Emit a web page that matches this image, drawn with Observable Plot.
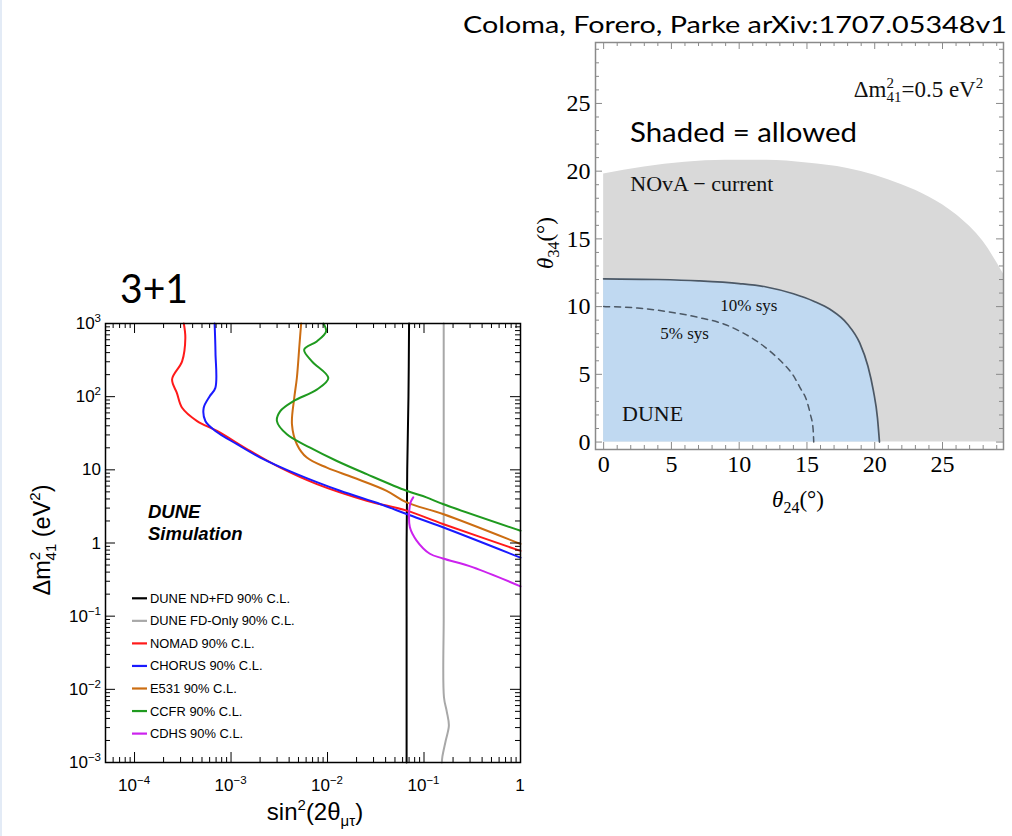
<!DOCTYPE html>
<html><head><meta charset="utf-8">
<script src="https://cdn.jsdelivr.net/npm/d3@7"></script>
<script src="https://cdn.jsdelivr.net/npm/@observablehq/plot@0.6"></script>
<style>
html,body{margin:0;padding:0;background:#fff;}
#page{position:relative;width:1012px;height:836px;overflow:hidden;background:#fff;}
</style></head>
<body><div id="page"></div>
<script>
// ================= LEFT CHART DATA (3+1 : sin^2(2θμτ) vs Δm²41) =================
const seriesNames = ["DUNE ND+FD 90% C.L.","DUNE FD-Only 90% C.L.","NOMAD 90% C.L.","CHORUS 90% C.L.","E531 90% C.L.","CCFR 90% C.L.","CDHS 90% C.L."];
const seriesColors = ["#000000","#a8a8a8","#ff1a1a","#1a1aff","#cc6d12","#1f9a1f","#cc22ee"];

const ndfdSin = [0.07, 0.069, 0.067, 0.066, 0.066, 0.066, 0.066];
const ndfdDm  = [1000, 100, 10, 1, 0.1, 0.01, 0.001];

const fdSin = [0.16, 0.16, 0.16, 0.16, 0.16, 0.161, 0.172, 0.181, 0.168, 0.155, 0.153];
const fdDm  = [1000, 100, 10, 1, 0.1, 0.0078, 0.005, 0.0032, 0.002, 0.0012, 0.001];

const nomadSin = [3.24e-4, 3.36e-4, 3.11e-4, 2.45e-4, 2.75e-4, 3.11e-4, 4.45e-4, 7.16e-4, 1.58e-3, 3.24e-3, 7.75e-3, 0.0255, 0.066, 0.157, 1.0];
const nomadDm  = [1000, 631, 304, 173, 112, 70.5, 46.4, 34, 18.1, 10.7, 6.38, 3.78, 2.77, 1.82, 0.78];

const chorusSin = [6.76e-4, 6.9e-4, 6.88e-4, 5.97e-4, 5.21e-4, 5.42e-4, 6.88e-4, 1.15e-3, 2.01e-3, 4.81e-3, 0.0135, 0.035, 0.066, 0.157, 1.0];
const chorusDm  = [1000, 400, 132, 100, 70.5, 46.4, 34, 22.4, 14.7, 8.73, 5.17, 3.41, 2.49, 1.64, 0.63];

const e531Sin = [5.33e-3, 5.12e-3, 4.81e-3, 4.52e-3, 4.28e-3, 4.81e-3, 6.1e-3, 9.84e-3, 0.0185, 0.041, 0.066, 0.157, 1.0];
const e531Dm  = [1000, 513, 180, 96, 41.9, 22.4, 14.7, 10.7, 7.85, 5.17, 3.59, 2.49, 0.97];

const ccfrSin = [9.06e-3, 9.66e-3, 7.74e-3, 5.73e-3, 6.89e-3, 0.0102, 7.74e-3, 4.43e-3, 3.24e-3, 2.99e-3, 3.79e-3, 6.6e-3, 0.0125, 0.0255, 0.066, 0.106, 0.157, 1.0];
const ccfrDm  = [1000, 778, 569, 439, 304, 180, 125, 86.9, 63.5, 46.4, 30.6, 20.1, 13.2, 8.73, 5.17, 4.2, 3.41, 1.47];

const cdhsSin = [0.0773, 0.0726, 0.0703, 0.0714, 0.0838, 0.115, 0.157, 0.323, 1.0];
const cdhsDm  = [4.2, 3.59, 2.77, 1.64, 1.08, 0.713, 0.615, 0.465, 0.256];

const leftTicksX = [1e-4, 1e-3, 1e-2, 1e-1, 1];
const leftTickBaseX = ["10", "10", "10", "10", "1"];
const leftTickExpX  = ["−4", "−3", "−2", "−1", ""];
const leftTicksY = [1e-3, 1e-2, 1e-1, 1, 10, 100, 1000];
const leftTickBaseY = ["10", "10", "10", "1", "10", "10", "10"];
const leftTickExpY  = ["−3", "−2", "−1", "", "", "2", "3"];

// ================= RIGHT CHART DATA (θ24 vs θ34, Δm²41 = 0.5 eV²) =================
const novaTheta24 = [0, 3, 6, 9, 12, 15, 18, 20, 22, 24, 26, 28, 29.5];
const novaTheta34 = [19.8, 20.3, 20.65, 20.8, 20.8, 20.6, 20.2, 19.7, 19.0, 18.1, 16.8, 14.8, 12.4];

const dune10Theta24 = [0, 4, 7, 10, 12, 14, 15.5, 16.7, 18, 18.9, 19.5, 19.9, 20.2, 20.35];
const dune10Theta34 = [12.05, 12.0, 11.9, 11.7, 11.45, 10.95, 10.4, 9.8, 8.7, 7.3, 5.6, 3.8, 1.8, 0];

const dune5Theta24 = [0, 2.5, 5.2, 7, 8.9, 10.2, 11.3, 12.4, 13.3, 14, 14.5, 15, 15.25, 15.45, 15.5];
const dune5Theta34 = [10, 9.9, 9.55, 9.2, 8.7, 8.1, 7.45, 6.6, 5.75, 4.9, 4.0, 3.0, 2.05, 1.0, 0];

const rightTicks = [0, 5, 10, 15, 20, 25];
const annLabels = ["NOvA − current", "10% sys", "5% sys", "DUNE"];
const annX = [1.97, 8.61, 4.18, 1.36];
const annY = [18.56, 9.65, 7.62, 1.59];
const annSize = [22, 17, 17, 22];
const dmNoteX = 28.04, dmNoteY = 25.45; // "Δm²41=0.5 eV²" anchor (right end, baseline)

const legendLabels = seriesNames;
const legendColors = seriesColors;

// ================= BUILD =================
const zip = (xs, ys, name) => xs.map((x, i) => ({x, y: ys[i], series: name}));
const leftSeries = [
  zip(ndfdSin, ndfdDm, seriesNames[0]),
  zip(fdSin, fdDm, seriesNames[1]),
  zip(nomadSin, nomadDm, seriesNames[2]),
  zip(chorusSin, chorusDm, seriesNames[3]),
  zip(e531Sin, e531Dm, seriesNames[4]),
  zip(ccfrSin, ccfrDm, seriesNames[5]),
  zip(cdhsSin, cdhsDm, seriesNames[6])
];

function logTicks(lo, hi) {
  const major = [], minor = [];
  for (let e = Math.floor(Math.log10(lo)) ; e <= Math.ceil(Math.log10(hi)); e++) {
    for (let m = 1; m < 10; m++) {
      const v = m * Math.pow(10, e);
      if (v < lo * 0.9999 || v > hi * 1.0001) continue;
      (m === 1 ? major : minor).push(v);
    }
  }
  return {major, minor};
}

function frameTicks(tx, ty, W, H, lenMaj, lenMin, stroke, sw) {
  const o = {stroke, strokeWidth: sw};
  return [
    Plot.tickX(tx.major, {x: d => d, insetTop: H - lenMaj, ...o}),
    Plot.tickX(tx.major, {x: d => d, insetBottom: H - lenMaj, ...o}),
    Plot.tickX(tx.minor, {x: d => d, insetTop: H - lenMin, ...o}),
    Plot.tickX(tx.minor, {x: d => d, insetBottom: H - lenMin, ...o}),
    Plot.tickY(ty.major, {y: d => d, insetRight: W - lenMaj, ...o}),
    Plot.tickY(ty.major, {y: d => d, insetLeft: W - lenMaj, ...o}),
    Plot.tickY(ty.minor, {y: d => d, insetRight: W - lenMin, ...o}),
    Plot.tickY(ty.minor, {y: d => d, insetLeft: W - lenMin, ...o})
  ];
}

const page = document.getElementById("page");

// ---------- Left plot ----------
const L = {x0: 0, y0: 280, w: 540, h: 556, ml: 105, mr: 20, mt: 43, mb: 74};
const LW = L.w - L.ml - L.mr, LH = L.h - L.mt - L.mb;
const leftPlot = Plot.plot({
  width: L.w, height: L.h,
  marginLeft: L.ml, marginRight: L.mr, marginTop: L.mt, marginBottom: L.mb,
  x: {type: "log", domain: [5e-5, 1], axis: null},
  y: {type: "log", domain: [1e-3, 1e3], axis: null},
  style: {fontFamily: "'Liberation Sans', Arial, sans-serif", fontSize: "16px", color: "black", background: "transparent", overflow: "visible"},
  marks: [
    ...leftSeries.map((d, i) => Plot.line(d, {x: "x", y: "y", stroke: seriesColors[i], strokeWidth: 2, curve: "catmull-rom"})),
    ...frameTicks(logTicks(5e-5, 1), logTicks(1e-3, 1e3), LW, LH, 10, 5, "black", 1),
    Plot.frame({stroke: "black", strokeWidth: 1.5})
  ]
});
leftPlot.style.position = "absolute"; leftPlot.style.left = L.x0 + "px"; leftPlot.style.top = L.y0 + "px";
page.appendChild(leftPlot);

// ---------- Right plot ----------
const R = {x0: 520, y0: 0, w: 492, h: 520, ml: 75, mr: 9, mt: 42, mb: 71};
const RW = R.w - R.ml - R.mr, RH = R.h - R.mt - R.mb;
const linTicks = (lo, hi) => ({major: d3.range(lo, hi + 1).filter(v => v % 5 === 0), minor: d3.range(lo, hi + 1).filter(v => v % 5 !== 0)});
const nova = zip(novaTheta24, novaTheta34, "NOvA");
const dune10 = zip(dune10Theta24, dune10Theta34, "10%");
const dune5 = zip(dune5Theta24, dune5Theta34, "5%");
const ann = annLabels.map((t, i) => ({t, x: annX[i], y: annY[i], s: annSize[i]}));
const rightPlot = Plot.plot({
  width: R.w, height: R.h,
  marginLeft: R.ml, marginRight: R.mr, marginTop: R.mt, marginBottom: R.mb,
  x: {domain: [-0.6, 29.5], axis: null},
  y: {domain: [-0.55, 29.5], axis: null},
  style: {fontFamily: "'Liberation Serif', 'Times New Roman', serif", fontSize: "24px", color: "black", background: "transparent", overflow: "visible"},
  marks: [
    Plot.areaY(nova, {x: "x", y1: 0, y2: "y", fill: "#d9d9d9", curve: "monotone-x"}),
    Plot.areaY(dune10, {x: "x", y1: 0, y2: "y", fill: "#c0d9f1", curve: "monotone-x"}),
    Plot.line(dune10, {x: "x", y: "y", stroke: "#4c5865", strokeWidth: 1.7, curve: "monotone-x"}),
    Plot.line(dune5, {x: "x", y: "y", stroke: "#4c5865", strokeWidth: 1.5, strokeDasharray: "6,5", curve: "monotone-x"}),
    ...frameTicks(linTicks(0, 29), linTicks(0, 29), RW, RH, 7, 4, "#8a8a8a", 1),
    Plot.frame({stroke: "#8a8a8a", strokeWidth: 1.5}),
    Plot.axisX(rightTicks, {tickSize: 0, tickPadding: 5, fontSize: 24, label: null}),
    Plot.axisY(rightTicks, {tickSize: 0, tickPadding: 5, fontSize: 24, label: null}),
    Plot.text(ann, {x: "x", y: "y", text: "t", fontSize: "s", textAnchor: "start", lineAnchor: "bottom", fill: "#111"})
  ]
});
rightPlot.style.position = "absolute"; rightPlot.style.left = R.x0 + "px"; rightPlot.style.top = R.y0 + "px";
page.appendChild(rightPlot);

// ---------- Overlay texts / legend ----------
const ov = d3.select(page).append("svg")
  .attr("width", 1012).attr("height", 836)
  .style("position", "absolute").style("left", "0px").style("top", "0px")
  .style("pointer-events", "none");

// slide edge
ov.append("rect").attr("x", 0).attr("y", 0).attr("width", 2).attr("height", 836).attr("fill", "#e3ebf6");

const sans = "Lato, 'Open Sans', sans-serif";
const arial = "'Liberation Sans', Arial, sans-serif";
const serif = "'Liberation Serif', 'Times New Roman', serif";

// Left tick labels with real superscripts, placed through the plot's own scales
const lx = leftPlot.scale("x"), ly = leftPlot.scale("y");
leftTicksX.forEach((v, i) => {
  const t = ov.append("text").attr("x", L.x0 + lx.apply(v)).attr("y", 791).attr("text-anchor", "middle")
    .attr("font-family", arial).attr("font-size", 17);
  t.append("tspan").text(leftTickBaseX[i]);
  if (leftTickExpX[i]) t.append("tspan").attr("dy", -7).attr("font-size", 11.5).text(leftTickExpX[i]);
});
leftTicksY.forEach((v, i) => {
  const t = ov.append("text").attr("x", 101).attr("y", L.y0 + ly.apply(v) + 6).attr("text-anchor", "end")
    .attr("font-family", arial).attr("font-size", 17);
  t.append("tspan").text(leftTickBaseY[i]);
  if (leftTickExpY[i]) t.append("tspan").attr("dy", -7).attr("font-size", 11.5).text(leftTickExpY[i]);
});

// Right chart Δm² note via right plot scales
{
  const rx = rightPlot.scale("x"), ry = rightPlot.scale("y");
  const t = ov.append("text").attr("x", R.x0 + rx.apply(dmNoteX)).attr("y", R.y0 + ry.apply(dmNoteY)).attr("text-anchor", "end")
    .attr("font-family", serif).attr("font-size", 23).attr("fill", "#111");
  t.append("tspan").text("Δm");
  t.append("tspan").attr("dy", -9).attr("font-size", 15).text("2");
  t.append("tspan").attr("dx", -7.5).attr("dy", 14).attr("font-size", 15).text("41");
  t.append("tspan").attr("dy", -5).text("=0.5 eV");
  t.append("tspan").attr("dy", -9).attr("font-size", 15).text("2");
}

ov.append("text").attr("x", 1007).attr("y", 33).attr("text-anchor", "end")
  .attr("font-family", sans).attr("font-size", 24).attr("textLength", 544).attr("lengthAdjust", "spacingAndGlyphs")
  .text("Coloma, Forero, Parke arXiv:1707.05348v1");
ov.append("text").attr("x", 120).attr("y", 303)
  .attr("font-family", sans).attr("font-size", 41).attr("textLength", 68).attr("lengthAdjust", "spacingAndGlyphs")
  .text("3+1");
ov.append("text").attr("x", 630).attr("y", 141.5)
  .attr("font-family", sans).attr("font-size", 27).attr("textLength", 227).attr("lengthAdjust", "spacingAndGlyphs")
  .text("Shaded = allowed");

// DUNE Simulation
[["DUNE", 518], ["Simulation", 540]].forEach(([t, y]) =>
  ov.append("text").attr("x", 148).attr("y", y).attr("font-family", arial).attr("font-size", 18.5)
    .attr("font-weight", "bold").attr("font-style", "italic").text(t));

// Legend
legendLabels.forEach((lab, i) => {
  const y = 598.3 + i * 22.55;
  ov.append("line").attr("x1", 132).attr("x2", 147).attr("y1", y).attr("y2", y)
    .attr("stroke", legendColors[i]).attr("stroke-width", 2.2);
  ov.append("text").attr("x", 150).attr("y", y).attr("dy", "0.35em")
    .attr("font-family", arial).attr("font-size", 12.9).text(lab);
});

// Left x label: sin²(2θμτ)
{
  const t = ov.append("text").attr("x", 315).attr("y", 820).attr("text-anchor", "middle")
    .attr("font-family", arial).attr("font-size", 24);
  t.append("tspan").text("sin");
  t.append("tspan").attr("dy", -10).attr("font-size", 15).text("2");
  t.append("tspan").attr("dy", 10).text("(2θ");
  t.append("tspan").attr("dy", 6).attr("font-size", 15).text("μτ");
  t.append("tspan").attr("dy", -6).text(")");
}
// Left y label: Δm²41 (eV²)
{
  const t = ov.append("text").attr("transform", "translate(50,540) rotate(-90)").attr("text-anchor", "middle")
    .attr("font-family", arial).attr("font-size", 23.5);
  t.append("tspan").text("Δm");
  t.append("tspan").attr("dy", -10).attr("font-size", 15).text("2");
  t.append("tspan").attr("dx", -8.5).attr("dy", 16).attr("font-size", 15).text("41");
  t.append("tspan").attr("dy", -6).text(" (eV");
  t.append("tspan").attr("dy", -10).attr("font-size", 15).text("2");
  t.append("tspan").attr("dy", 10).text(")");
}
// Right x label θ24(°)
{
  const t = ov.append("text").attr("x", 798).attr("y", 507).attr("text-anchor", "middle")
    .attr("font-family", serif).attr("font-size", 23);
  t.append("tspan").attr("font-style", "italic").text("θ");
  t.append("tspan").attr("dy", 6).attr("font-size", 16).text("24");
  t.append("tspan").attr("dy", -6).text("(°)");
}
// Right y label θ34(°)
{
  const t = ov.append("text").attr("transform", "translate(553,243) rotate(-90)").attr("text-anchor", "middle")
    .attr("font-family", serif).attr("font-size", 23);
  t.append("tspan").attr("font-style", "italic").text("θ");
  t.append("tspan").attr("dy", 6).attr("font-size", 16).text("34");
  t.append("tspan").attr("dy", -6).text("(°)");
}
</script>
</body></html>
